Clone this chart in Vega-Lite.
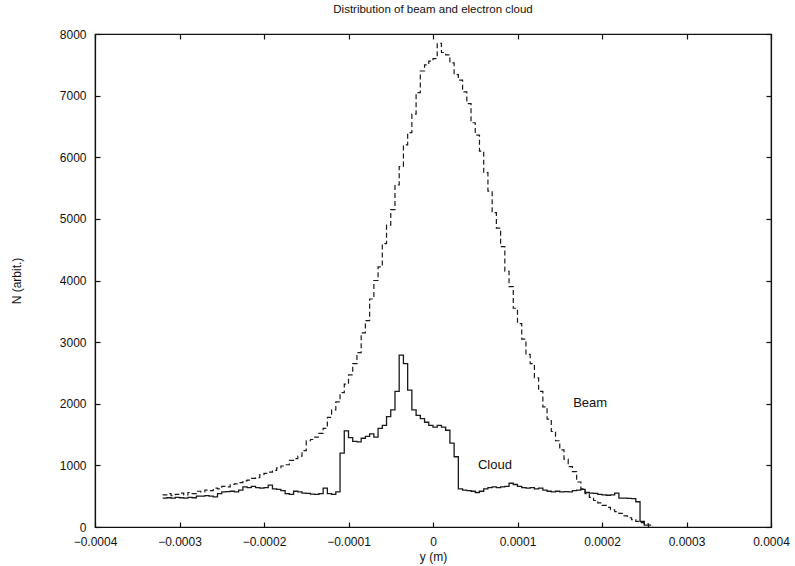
{
  "$schema": "https://vega.github.io/schema/vega-lite/v6.json",
  "width": 676,
  "height": 493,
  "autosize": {"type": "none"},
  "padding": {"left": 95, "top": 34, "right": 24, "bottom": 39},
  "background": "white",
  "config": {
    "view": {"stroke": "#111", "strokeWidth": 1.2},
    "font": "Liberation Sans",
    "axis": {"grid": false, "domainColor": "#111", "tickColor": "#111", "labelColor": "#111", "titleColor": "#111", "labelFont": "Liberation Sans", "titleFont": "Liberation Sans", "labelFontSize": 12, "titleFontSize": 12, "titleFontWeight": "normal", "tickSize": -5, "domainWidth": 1.2, "tickWidth": 1.2}
  },
  "title": {"text": "Distribution of beam and electron cloud", "fontSize": 11.5, "fontWeight": "normal", "font": "Liberation Sans", "color": "#111", "offset": 13, "anchor": "middle"},
  "datasets": {
    "beam": [
      {"x": -0.000320, "n": 520}, {"x": -0.000315, "n": 540}, {"x": -0.000310, "n": 510}, {"x": -0.000305, "n": 530},
      {"x": -0.000300, "n": 550}, {"x": -0.000295, "n": 520}, {"x": -0.000290, "n": 560}, {"x": -0.000285, "n": 540},
      {"x": -0.000280, "n": 580}, {"x": -0.000275, "n": 570}, {"x": -0.000270, "n": 600}, {"x": -0.000265, "n": 590},
      {"x": -0.000260, "n": 630}, {"x": -0.000255, "n": 620}, {"x": -0.000250, "n": 660}, {"x": -0.000245, "n": 650},
      {"x": -0.000240, "n": 690}, {"x": -0.000235, "n": 700}, {"x": -0.000230, "n": 720}, {"x": -0.000225, "n": 750},
      {"x": -0.000220, "n": 760}, {"x": -0.000215, "n": 790}, {"x": -0.000210, "n": 800}, {"x": -0.000205, "n": 850},
      {"x": -0.000200, "n": 870}, {"x": -0.000195, "n": 890}, {"x": -0.000190, "n": 920}, {"x": -0.000185, "n": 960},
      {"x": -0.000180, "n": 990}, {"x": -0.000175, "n": 1010}, {"x": -0.000170, "n": 1080}, {"x": -0.000165, "n": 1110},
      {"x": -0.000160, "n": 1150}, {"x": -0.000155, "n": 1240}, {"x": -0.000150, "n": 1400}, {"x": -0.000145, "n": 1420},
      {"x": -0.000140, "n": 1460}, {"x": -0.000135, "n": 1520}, {"x": -0.000130, "n": 1600}, {"x": -0.000125, "n": 1780},
      {"x": -0.000120, "n": 1900}, {"x": -0.000115, "n": 2030}, {"x": -0.000110, "n": 2180}, {"x": -0.000105, "n": 2320},
      {"x": -0.000100, "n": 2470}, {"x": -0.000095, "n": 2650}, {"x": -0.000090, "n": 2830}, {"x": -0.000085, "n": 3150},
      {"x": -0.000080, "n": 3350}, {"x": -0.000075, "n": 3700}, {"x": -0.000070, "n": 4000}, {"x": -0.000065, "n": 4220},
      {"x": -0.000060, "n": 4600}, {"x": -0.000055, "n": 4900}, {"x": -0.000050, "n": 5150}, {"x": -0.000045, "n": 5550},
      {"x": -0.000040, "n": 5850}, {"x": -0.000035, "n": 6200}, {"x": -0.000030, "n": 6400}, {"x": -0.000025, "n": 6700},
      {"x": -0.000020, "n": 7050}, {"x": -0.000015, "n": 7400}, {"x": -0.000010, "n": 7500}, {"x": -0.000005, "n": 7560},
      {"x": 0.000000, "n": 7600}, {"x": 0.000005, "n": 7850}, {"x": 0.000010, "n": 7700}, {"x": 0.000015, "n": 7660},
      {"x": 0.000020, "n": 7530}, {"x": 0.000025, "n": 7340}, {"x": 0.000030, "n": 7250}, {"x": 0.000035, "n": 7060},
      {"x": 0.000040, "n": 6870}, {"x": 0.000045, "n": 6560}, {"x": 0.000050, "n": 6360}, {"x": 0.000055, "n": 6100},
      {"x": 0.000060, "n": 5750}, {"x": 0.000065, "n": 5450}, {"x": 0.000070, "n": 5100}, {"x": 0.000075, "n": 4850},
      {"x": 0.000080, "n": 4550}, {"x": 0.000085, "n": 4150}, {"x": 0.000090, "n": 3900}, {"x": 0.000095, "n": 3550},
      {"x": 0.000100, "n": 3300}, {"x": 0.000105, "n": 3050}, {"x": 0.000110, "n": 2800}, {"x": 0.000115, "n": 2650},
      {"x": 0.000120, "n": 2420}, {"x": 0.000125, "n": 2200}, {"x": 0.000130, "n": 1950}, {"x": 0.000135, "n": 1750},
      {"x": 0.000140, "n": 1550}, {"x": 0.000145, "n": 1400}, {"x": 0.000150, "n": 1250}, {"x": 0.000155, "n": 1100},
      {"x": 0.000160, "n": 980}, {"x": 0.000165, "n": 900}, {"x": 0.000170, "n": 730}, {"x": 0.000175, "n": 620},
      {"x": 0.000180, "n": 540}, {"x": 0.000185, "n": 480}, {"x": 0.000190, "n": 430}, {"x": 0.000195, "n": 390},
      {"x": 0.000200, "n": 350}, {"x": 0.000205, "n": 320}, {"x": 0.000210, "n": 280}, {"x": 0.000215, "n": 250},
      {"x": 0.000220, "n": 220}, {"x": 0.000225, "n": 180}, {"x": 0.000230, "n": 150}, {"x": 0.000235, "n": 120},
      {"x": 0.000240, "n": 90}, {"x": 0.000245, "n": 70}, {"x": 0.000250, "n": 50}, {"x": 0.000255, "n": 30},
      {"x": 0.000260, "n": 0}
    ],
    "cloud": [
      {"x": -0.000320, "n": 470}, {"x": -0.000315, "n": 475}, {"x": -0.000310, "n": 470}, {"x": -0.000305, "n": 480},
      {"x": -0.000300, "n": 475}, {"x": -0.000295, "n": 470}, {"x": -0.000290, "n": 480}, {"x": -0.000285, "n": 475},
      {"x": -0.000280, "n": 500}, {"x": -0.000275, "n": 500}, {"x": -0.000270, "n": 510}, {"x": -0.000265, "n": 500},
      {"x": -0.000260, "n": 490}, {"x": -0.000255, "n": 540}, {"x": -0.000250, "n": 570}, {"x": -0.000245, "n": 575},
      {"x": -0.000240, "n": 580}, {"x": -0.000235, "n": 570}, {"x": -0.000230, "n": 600}, {"x": -0.000225, "n": 650},
      {"x": -0.000220, "n": 640}, {"x": -0.000215, "n": 660}, {"x": -0.000210, "n": 640}, {"x": -0.000205, "n": 630},
      {"x": -0.000200, "n": 640}, {"x": -0.000195, "n": 680}, {"x": -0.000190, "n": 620}, {"x": -0.000185, "n": 610},
      {"x": -0.000180, "n": 590}, {"x": -0.000175, "n": 540}, {"x": -0.000170, "n": 530}, {"x": -0.000165, "n": 580},
      {"x": -0.000160, "n": 570}, {"x": -0.000155, "n": 550}, {"x": -0.000150, "n": 545}, {"x": -0.000145, "n": 535},
      {"x": -0.000140, "n": 530}, {"x": -0.000135, "n": 540}, {"x": -0.000130, "n": 630}, {"x": -0.000125, "n": 540},
      {"x": -0.000120, "n": 530}, {"x": -0.000115, "n": 570}, {"x": -0.000110, "n": 1200}, {"x": -0.000105, "n": 1560},
      {"x": -0.000100, "n": 1450}, {"x": -0.000095, "n": 1390}, {"x": -0.000090, "n": 1380}, {"x": -0.000085, "n": 1440},
      {"x": -0.000080, "n": 1470}, {"x": -0.000075, "n": 1510}, {"x": -0.000070, "n": 1460}, {"x": -0.000065, "n": 1600},
      {"x": -0.000060, "n": 1650}, {"x": -0.000055, "n": 1790}, {"x": -0.000050, "n": 1900}, {"x": -0.000045, "n": 2200},
      {"x": -0.000040, "n": 2790}, {"x": -0.000035, "n": 2650}, {"x": -0.000030, "n": 2220}, {"x": -0.000025, "n": 1900},
      {"x": -0.000020, "n": 1810}, {"x": -0.000015, "n": 1760}, {"x": -0.000010, "n": 1700}, {"x": -0.000005, "n": 1650},
      {"x": 0.000000, "n": 1620}, {"x": 0.000005, "n": 1650}, {"x": 0.000010, "n": 1620}, {"x": 0.000015, "n": 1570},
      {"x": 0.000020, "n": 1360}, {"x": 0.000025, "n": 1140}, {"x": 0.000030, "n": 620}, {"x": 0.000035, "n": 600},
      {"x": 0.000040, "n": 590}, {"x": 0.000045, "n": 580}, {"x": 0.000050, "n": 560}, {"x": 0.000055, "n": 580},
      {"x": 0.000060, "n": 620}, {"x": 0.000065, "n": 640}, {"x": 0.000070, "n": 650}, {"x": 0.000075, "n": 640},
      {"x": 0.000080, "n": 650}, {"x": 0.000085, "n": 660}, {"x": 0.000090, "n": 710}, {"x": 0.000095, "n": 690},
      {"x": 0.000100, "n": 660}, {"x": 0.000105, "n": 640}, {"x": 0.000110, "n": 630}, {"x": 0.000115, "n": 640},
      {"x": 0.000120, "n": 620}, {"x": 0.000125, "n": 630}, {"x": 0.000130, "n": 600}, {"x": 0.000135, "n": 580},
      {"x": 0.000140, "n": 570}, {"x": 0.000145, "n": 580}, {"x": 0.000150, "n": 570}, {"x": 0.000155, "n": 575},
      {"x": 0.000160, "n": 570}, {"x": 0.000165, "n": 590}, {"x": 0.000170, "n": 600}, {"x": 0.000175, "n": 610},
      {"x": 0.000180, "n": 560}, {"x": 0.000185, "n": 550}, {"x": 0.000190, "n": 545}, {"x": 0.000195, "n": 530},
      {"x": 0.000200, "n": 520}, {"x": 0.000205, "n": 515}, {"x": 0.000210, "n": 520}, {"x": 0.000215, "n": 550},
      {"x": 0.000220, "n": 470}, {"x": 0.000225, "n": 470}, {"x": 0.000230, "n": 465}, {"x": 0.000235, "n": 460},
      {"x": 0.000240, "n": 410}, {"x": 0.000245, "n": 90}, {"x": 0.000250, "n": 30}, {"x": 0.000255, "n": 0}
    ],
    "labels": [
      {"x": 0.000186, "n": 2013, "label": "Beam"},
      {"x": 0.0000733, "n": 1006, "label": "Cloud"}
    ]
  },
  "resolve": {"axis": {"x": "independent", "y": "independent"}},
  "layer": [
    {
      "data": {"name": "beam"},
      "mark": {"type": "line", "interpolate": "step-after", "color": "#1a1a1a", "strokeWidth": 1.2, "strokeDash": [5, 3]},
      "encoding": {
        "x": {"field": "x", "type": "quantitative", "scale": {"domain": [-0.0004, 0.0004], "nice": false, "zero": false},
              "axis": {"orient": "bottom", "values": [-0.0004, -0.0003, -0.0002, -0.0001, 0, 0.0001, 0.0002, 0.0003, 0.0004], "format": ".4~f", "title": "y (m)", "labelPadding": 14, "titlePadding": 4, "labelFlush": false}},
        "y": {"field": "n", "type": "quantitative", "scale": {"domain": [0, 8000], "nice": false},
              "axis": {"orient": "left", "values": [0, 1000, 2000, 3000, 4000, 5000, 6000, 7000, 8000], "format": "d", "title": "N (arbit.)", "labelPadding": 14, "titlePadding": 36}}
      }
    },
    {
      "data": {"name": "cloud"},
      "mark": {"type": "line", "interpolate": "step-after", "color": "#1a1a1a", "strokeWidth": 1.3},
      "encoding": {
        "x": {"field": "x", "type": "quantitative",
              "axis": {"orient": "top", "values": [-0.0004, -0.0003, -0.0002, -0.0001, 0, 0.0001, 0.0002, 0.0003, 0.0004], "labels": false, "title": null}},
        "y": {"field": "n", "type": "quantitative",
              "axis": {"orient": "right", "values": [0, 1000, 2000, 3000, 4000, 5000, 6000, 7000, 8000], "labels": false, "title": null}}
      }
    },
    {
      "mark": {"type": "rule", "color": "#333", "strokeWidth": 1, "strokeDash": [1, 2]},
      "encoding": {"x": {"datum": 0, "axis": null}}
    },
    {
      "data": {"name": "labels"},
      "mark": {"type": "text", "font": "Liberation Sans", "fontSize": 13, "color": "#111", "align": "center", "baseline": "middle"},
      "encoding": {
        "x": {"field": "x", "type": "quantitative", "axis": null},
        "y": {"field": "n", "type": "quantitative", "axis": null},
        "text": {"field": "label"}
      }
    }
  ]
}
